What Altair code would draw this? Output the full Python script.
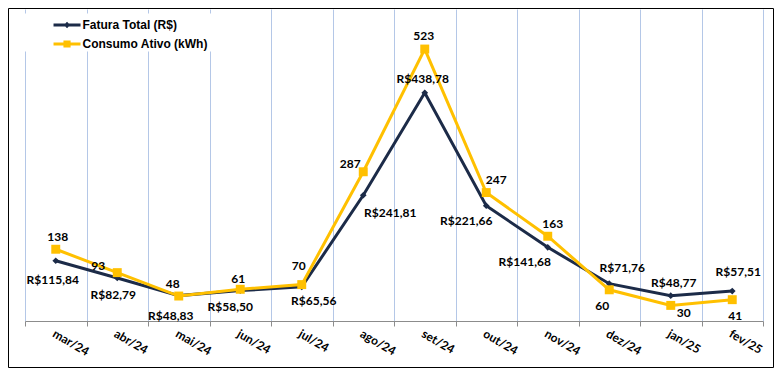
import altair as alt
import pandas as pd

# ---- data ----
meses = ["mar/24", "abr/24", "mai/24", "jun/24", "jul/24", "ago/24",
         "set/24", "out/24", "nov/24", "dez/24", "jan/25", "fev/25"]
fatura = [115.84, 82.79, 48.83, 58.50, 65.56, 241.81, 438.78, 221.66, 141.68, 71.76, 48.77, 57.51]
consumo = [138, 93, 48, 61, 70, 287, 523, 247, 163, 60, 30, 41]

S_FAT = "Fatura Total (R$)"
S_CON = "Consumo Ativo (kWh)"

# label nudges (dx, dy) in pixels, per month
fat_nudge = [(-3, 19), (-4, 17), (-8, 20), (-10, 16), (12, 14), (27, 18),
             (-2, -14), (-20, 15), (-23, 15), (13, -16), (3, -13), (6, -19)]
con_nudge = [(2, -12), (-19, -7), (-6, -12), (-2, -10), (-3, -19), (-13, -8),
             (-1, -13), (10, -13), (5, -12), (-7, 16), (13, 8), (3, 16)]

NAVY = "#1C2B48"
GOLD = "#FFC000"
GRID = "#B4C7E7"
AXIS = "#8C8C8C"


def fmt_brl(v):
    return "R$" + f"{v:.2f}".replace(".", ",")


rows = []
for m, v in zip(meses, fatura):
    rows.append({"mes": m, "serie": S_FAT, "valor": v, "rotulo": fmt_brl(v)})
for m, v in zip(meses, consumo):
    rows.append({"mes": m, "serie": S_CON, "valor": v, "rotulo": str(v)})
df = pd.DataFrame(rows)

PW, PH = 738, 312
PAD = {"left": 17, "top": 1, "right": 11, "bottom": 47}
TOTW = PW + PAD["left"] + PAD["right"]
TOTH = PH + PAD["top"] + PAD["bottom"]

x_enc = alt.X(
    "mes:N", sort=meses, title=None,
    scale=alt.Scale(type="band", paddingInner=0, paddingOuter=0),
    axis=alt.Axis(
        tickBand="extent", grid=True, gridColor=GRID, gridWidth=1,
        domainColor=AXIS, domainWidth=1, tickColor=AXIS, tickSize=5, tickWidth=1,
        labelAngle=30, labelAlign="left", labelBaseline="top", labelPadding=2,
        labelFont="Lato", labelFontSize=12, labelFontWeight="bold",
        labelColor="#000000", labelOverlap=False, labelFlush=False,
    ),
)
y_enc = alt.Y("valor:Q", scale=alt.Scale(domain=[0, 600], nice=False, zero=True), axis=None)

layers = []
# series lines and markers
for serie, color, shape, size in [(S_FAT, NAVY, "diamond", 45), (S_CON, GOLD, "square", 80)]:
    layers.append(
        alt.Chart().transform_filter(alt.datum.serie == serie)
        .mark_line(color=color, strokeWidth=3)
        .encode(x=x_enc, y=y_enc)
    )
    layers.append(
        alt.Chart().transform_filter(alt.datum.serie == serie)
        .mark_point(shape=shape, filled=True, size=size, color=color, opacity=1)
        .encode(x=x_enc, y=y_enc)
    )


# legend (custom line+marker symbols, ink shifted right of the nominal symbol centre)
def sym_path(marker, k=3.05, left=2.76, right=18.0):
    a, b = -1.286 + k, 1.286 + k
    line = f"M{a:.3f},-0.143H{b:.3f}V0.143H{a:.3f}Z"
    if marker == "diamond":
        mk = f"M{k:.3f},-0.3L{k + 0.3:.3f},0L{k:.3f},0.3L{k - 0.3:.3f},0Z"
    else:
        mk = f"M{k - 0.34:.3f},-0.34H{k + 0.34:.3f}V0.34H{k - 0.34:.3f}Z"
    return f"{line} {mk} M-{left},0Z M{right},0Z"


leg = alt.Legend(
    orient="none", legendX=-1.5, legendY=4.5, direction="vertical",
    fillColor="white", padding=1, symbolSize=441, symbolStrokeWidth=0,
    symbolOpacity=1, labelFont="Liberation Sans", labelFontSize=12,
    labelFontWeight="bold", labelColor="#000000", labelOffset=37,
    rowPadding=2, labelLimit=300,
)
layers.append(
    alt.Chart().mark_point(filled=True, opacity=0, size=441)
    .encode(
        x=x_enc, y=y_enc,
        color=alt.Color("serie:N", title=None,
                        scale=alt.Scale(domain=[S_FAT, S_CON], range=[NAVY, GOLD]),
                        legend=leg),
        shape=alt.Shape("serie:N", title=None,
                        scale=alt.Scale(domain=[S_FAT, S_CON],
                                        range=[sym_path("diamond"), sym_path("square")]),
                        legend=leg),
    )
)

# data labels
for serie, nudges in [(S_FAT, fat_nudge), (S_CON, con_nudge)]:
    for m, (dx, dy) in zip(meses, nudges):
        layers.append(
            alt.Chart()
            .transform_filter((alt.datum.serie == serie) & (alt.datum.mes == m))
            .mark_text(dx=dx, dy=dy, align="center", baseline="middle",
                       font="Lato", fontSize=12, fontWeight="bold", color="#000000")
            .encode(x=x_enc, y=y_enc, text="rotulo:N")
        )

# outer frame
layers.append(
    alt.Chart(pd.DataFrame({"k": [0]}))
    .mark_rect(filled=False, stroke="#000000", strokeWidth=1)
    .encode(x=alt.value(-PAD["left"] + 0.5), x2=alt.value(TOTW - PAD["left"] - 0.5),
            y=alt.value(-PAD["top"] + 0.5), y2=alt.value(TOTH - PAD["top"] - 0.5))
)

chart = (
    alt.layer(*layers, data=df)
    .properties(width=PW, height=PH, background="white",
                autosize=alt.AutoSizeParams(type="none"), padding=PAD)
    .configure_view(stroke="transparent")
)

chart.save("out.html", embed_options={"renderer": "svg", "actions": False})
